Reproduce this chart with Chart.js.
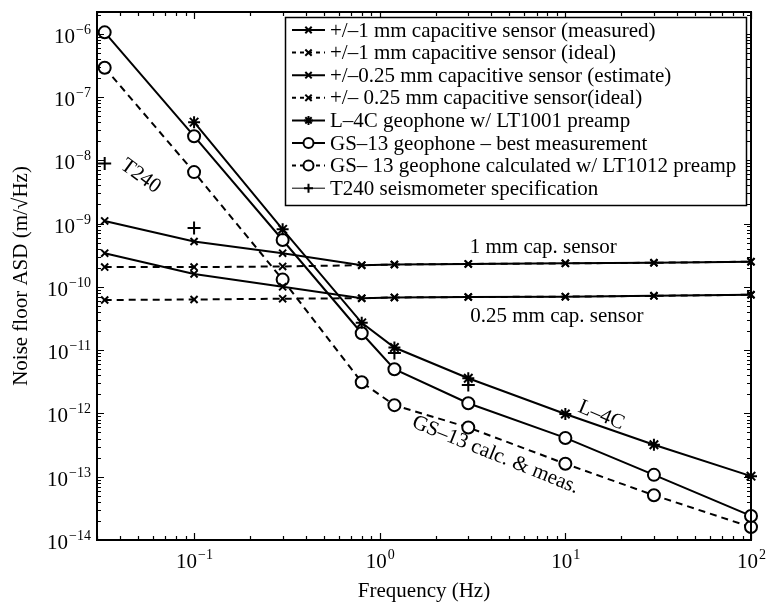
<!DOCTYPE html>
<html>
<head>
<meta charset="utf-8">
<script src="https://cdn.jsdelivr.net/npm/chart.js@4.4.1/dist/chart.umd.min.js"></script>
<style>
body { margin: 0; background: #fff; }
</style>
</head>
<body>
<canvas id="noise-chart" width="772" height="604"></canvas>
<script>
// frequencies (Hz) of the measurement points
var freqs = [0.033, 0.1, 0.3, 0.8, 1.2, 3, 10, 30, 100];

// noise floor ASD values (m/rtHz), one per frequency
var cap1Measured  = [1.1e-9, 5.2e-10, 3.4e-10, 2.2e-10, 2.25e-10, 2.3e-10, 2.35e-10, 2.4e-10, 2.5e-10];
var cap1Ideal     = [2.05e-10, 2.05e-10, 2.1e-10, 2.2e-10, 2.25e-10, 2.3e-10, 2.35e-10, 2.4e-10, 2.5e-10];
var cap025Est     = [3.4e-10, 1.6e-10, 1.0e-10, 6.6e-11, 6.8e-11, 6.9e-11, 7.0e-11, 7.2e-11, 7.5e-11];
var cap025Ideal   = [6.2e-11, 6.3e-11, 6.5e-11, 6.6e-11, 6.8e-11, 6.9e-11, 7.0e-11, 7.2e-11, 7.5e-11];
var l4c           = [null, 4e-8, 8.1e-10, 2.7e-11, 1.1e-11, 3.6e-12, 9.8e-13, 3.2e-13, 1.02e-13];
var gs13Best      = [1.05e-6, 2.4e-8, 5.5e-10, 1.85e-11, 5e-12, 1.45e-12, 4.1e-13, 1.07e-13, 2.4e-14];
var gs13Calc      = [2.9e-7, 6.5e-9, 1.3e-10, 3.1e-12, 1.35e-12, 6e-13, 1.6e-13, 5.1e-14, 1.6e-14];
var t240          = [8.9e-9, 8.5e-10, null, null, 9e-12, 2.8e-12, null, null, null];

var seriesLabels = [
    '+/\u20131 mm capacitive sensor (measured)',
    '+/\u20131 mm capacitive sensor (ideal)',
    '+/\u20130.25 mm capacitive sensor (estimate)',
    '+/\u2013 0.25 mm capacitive sensor(ideal)',
    'L\u20134C geophone w/ LT1001 preamp',
    'GS\u201313 geophone \u2013 best measurement',
    'GS\u2013 13 geophone calculated w/ LT1012 preamp',
    'T240 seismometer specification'
];

// axis ranges and decade ticks
var xMin = 0.03, xMax = 100;
var yMin = 1e-14, yMax = 2.2e-6;
var xTickExps = [-1, 0, 1, 2];
var yTickExps = [-14, -13, -12, -11, -10, -9, -8, -7, -6];

var xTitle = 'Frequency (Hz)';
var yTitle = 'Noise floor ASD (m/\u221AHz)';

// text placed in the plot (data coordinates)
var noteTexts  = ['T240', '1 mm cap. sensor', '0.25 mm cap. sensor', 'L\u20134C', 'GS\u201313 calc. & meas.'];
var noteFreqs  = [0.0515, 7.6, 9.0, 15.6, 4.2];
var noteValues = [5.6e-9, 4.2e-10, 3.4e-11, 9.3e-13, 2.2e-13];
var noteAngles = [36, 0, 0, 23, 22];

var FONT = '"Liberation Serif", "Times New Roman", serif';

function series(label, values, dashed, marker, radius) {
    return {
        label: label,
        data: freqs.map(function (f, i) { return { x: f, y: values[i] }; }),
        borderColor: '#000',
        backgroundColor: '#fff',
        borderWidth: 2,
        borderDash: dashed ? [7, 5] : [],
        pointStyle: marker,
        pointRadius: radius,
        pointBorderColor: '#000',
        pointBackgroundColor: marker === 'circle' ? '#fff' : '#000',
        pointBorderWidth: 2,
        tension: 0,
        fill: false,
        clip: false
    };
}

var datasets = [
    series(seriesLabels[0], cap1Measured, false, 'crossRot', 5),
    series(seriesLabels[1], cap1Ideal, true, 'crossRot', 5),
    series(seriesLabels[2], cap025Est, false, 'crossRot', 5),
    series(seriesLabels[3], cap025Ideal, true, 'crossRot', 5),
    series(seriesLabels[4], l4c, false, 'star', 6),
    series(seriesLabels[5], gs13Best, false, 'circle', 6),
    series(seriesLabels[6], gs13Calc, true, 'circle', 6),
    series(seriesLabels[7], t240, false, 'cross', 6.5)
];
datasets[7].showLine = false;
datasets[7].borderWidth = 1;

function drawMarker(ctx, style, x, y, r) {
    ctx.beginPath();
    if (style === 'circle') {
        ctx.arc(x, y, r, 0, Math.PI * 2);
        ctx.fillStyle = '#fff';
        ctx.fill();
    }
    if (style === 'cross' || style === 'star') {
        ctx.moveTo(x - r, y); ctx.lineTo(x + r, y);
        ctx.moveTo(x, y - r); ctx.lineTo(x, y + r);
    }
    if (style === 'crossRot' || style === 'star') {
        var d = r * 0.707;
        ctx.moveTo(x - d, y - d); ctx.lineTo(x + d, y + d);
        ctx.moveTo(x - d, y + d); ctx.lineTo(x + d, y - d);
    }
    ctx.stroke();
}

function drawPow10(ctx, exp, x, y, align) {
    var base = '10';
    var sup = exp < 0 ? '\u2212' + (-exp) : String(exp);
    ctx.font = '21px ' + FONT;
    var wb = ctx.measureText(base).width;
    ctx.font = '14px ' + FONT;
    var ws = ctx.measureText(sup).width;
    var x0 = align === 'right' ? x - wb - ws - 1 : x - (wb + ws) / 2;
    ctx.textAlign = 'left';
    ctx.textBaseline = 'alphabetic';
    ctx.font = '21px ' + FONT;
    ctx.fillText(base, x0, y);
    ctx.font = '14px ' + FONT;
    ctx.fillText(sup, x0 + wb + 1, y - 9);
}

var axesPlugin = {
    id: 'matlabAxes',
    afterDraw: function (chart) {
        var ctx = chart.ctx;
        var a = chart.chartArea;
        var xs = chart.scales.x, ys = chart.scales.y;
        ctx.save();
        ctx.strokeStyle = '#000';
        ctx.fillStyle = '#000';
        ctx.setLineDash([]);

        // ticks on all four sides, pointing inward
        ctx.lineWidth = 1.2;
        ctx.beginPath();
        var e, m, v, p, len;
        for (e = -2; e <= 2; e++) {
            for (m = 1; m <= 9; m++) {
                v = m * Math.pow(10, e);
                if (v < xMin * 0.999 || v > xMax * 1.001) continue;
                p = Math.round(xs.getPixelForValue(v)) + 0.5;
                len = m === 1 ? 7 : 4;
                ctx.moveTo(p, a.bottom); ctx.lineTo(p, a.bottom - len);
                ctx.moveTo(p, a.top); ctx.lineTo(p, a.top + len);
            }
        }
        for (e = -14; e <= -6; e++) {
            for (m = 1; m <= 9; m++) {
                v = m * Math.pow(10, e);
                if (v < yMin * 0.999 || v > yMax * 1.001) continue;
                p = Math.round(ys.getPixelForValue(v)) + 0.5;
                len = m === 1 ? 7 : 4;
                ctx.moveTo(a.left, p); ctx.lineTo(a.left + len, p);
                ctx.moveTo(a.right, p); ctx.lineTo(a.right - len, p);
            }
        }
        ctx.stroke();

        // axis box
        ctx.lineWidth = 2;
        ctx.strokeRect(a.left, a.top, a.right - a.left, a.bottom - a.top);

        // tick labels
        xTickExps.forEach(function (ex) {
            drawPow10(ctx, ex, xs.getPixelForValue(Math.pow(10, ex)), a.bottom + 28, 'center');
        });
        yTickExps.forEach(function (ex) {
            drawPow10(ctx, ex, a.left - 6, ys.getPixelForValue(Math.pow(10, ex)) + 9, 'right');
        });

        // axis titles
        ctx.font = '21px ' + FONT;
        ctx.textAlign = 'center';
        ctx.textBaseline = 'middle';
        ctx.fillText(xTitle, (a.left + a.right) / 2, 591);
        ctx.save();
        ctx.translate(21, (a.top + a.bottom) / 2);
        ctx.rotate(-Math.PI / 2);
        ctx.fillText(yTitle, 0, 0);
        ctx.restore();

        // in-plot notes
        noteTexts.forEach(function (t, i) {
            ctx.save();
            ctx.translate(xs.getPixelForValue(noteFreqs[i]), ys.getPixelForValue(noteValues[i]));
            ctx.rotate(noteAngles[i] * Math.PI / 180);
            ctx.font = '21px ' + FONT;
            ctx.textAlign = 'center';
            ctx.textBaseline = 'middle';
            ctx.fillText(t, 0, 0);
            ctx.restore();
        });

        // legend box
        var lx = 285, ly = 17, lw = 461, lh = 188, row = 22.6;
        ctx.fillStyle = '#fff';
        ctx.fillRect(lx, ly, lw, lh);
        ctx.lineWidth = 1.5;
        ctx.strokeRect(lx + 0.5, ly + 0.5, lw, lh);
        chart.data.datasets.forEach(function (ds, i) {
            var yy = ly + 13 + row * i;
            ctx.strokeStyle = '#000';
            ctx.lineWidth = ds === datasets[7] ? 1 : 2;
            ctx.setLineDash(ds.borderDash.length ? [4, 4] : []);
            ctx.beginPath();
            ctx.moveTo(lx + 7, yy);
            ctx.lineTo(lx + 40, yy);
            ctx.stroke();
            ctx.setLineDash([]);
            ctx.lineWidth = 2;
            drawMarker(ctx, ds.pointStyle, lx + 23.5, yy, ds.pointStyle === 'circle' ? 5 : 4.5);
            ctx.fillStyle = '#000';
            ctx.font = '21px ' + FONT;
            ctx.textAlign = 'left';
            ctx.textBaseline = 'middle';
            ctx.fillText(ds.label, lx + 45, yy + 1);
        });
        ctx.restore();
    }
};

new Chart(document.getElementById('noise-chart').getContext('2d'), {
    type: 'line',
    data: { datasets: datasets },
    options: {
        responsive: false,
        animation: false,
        devicePixelRatio: 1,
        layout: { padding: { left: 97, right: 21, top: 12, bottom: 64 } },
        plugins: { legend: { display: false }, tooltip: { enabled: false } },
        scales: {
            x: { type: 'logarithmic', min: xMin, max: xMax, display: false },
            y: { type: 'logarithmic', min: yMin, max: yMax, display: false }
        }
    },
    plugins: [axesPlugin]
});
</script>
</body>
</html>
